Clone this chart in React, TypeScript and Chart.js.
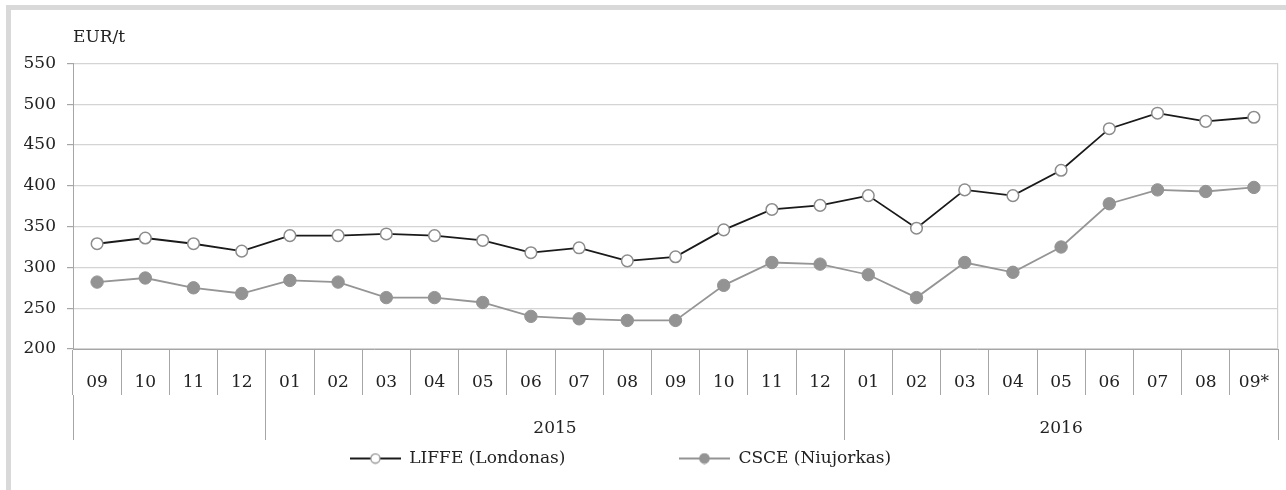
import React, { useEffect, useRef } from "react";
import { Chart, registerables } from "chart.js";

Chart.register(...registerables);

const months = ["09", "10", "11", "12", "01", "02", "03", "04", "05", "06", "07", "08", "09", "10", "11", "12", "01", "02", "03", "04", "05", "06", "07", "08", "09*"];
const yearLabels = ["", "2015", "2016"];
const yearStarts = [0, 4, 16];
const liffe = [329, 336, 329, 320, 339, 339, 341, 339, 333, 318, 324, 308, 313, 346, 371, 376, 388, 348, 395, 388, 419, 470, 489, 479, 484];
const csce = [282, 287, 275, 268, 284, 282, 263, 263, 257, 240, 237, 235, 235, 278, 306, 304, 291, 263, 306, 294, 325, 378, 395, 393, 398];
const seriesNames = ["LIFFE (Londonas)", "CSCE (Niujorkas)"];
const yMin = 200;
const yMax = 550;
const yStep = 50;
const unitLabel = "EUR/t";

const FONT = "DejaVu Serif";
const TEXT = "#222222";
const AXIS = "#a6a6a6";
const GRID = "#d4d4d4";

function makeMarker(lineColor: string, fill: string, stroke: string, r: number) {
  const c = document.createElement("canvas");
  c.width = 51;
  c.height = 12;
  const g = c.getContext("2d")!;
  g.strokeStyle = lineColor;
  g.lineWidth = 2;
  g.beginPath();
  g.moveTo(0, 6);
  g.lineTo(51, 6);
  g.stroke();
  g.beginPath();
  g.arc(25.5, 6, r, 0, Math.PI * 2);
  g.fillStyle = fill;
  g.fill();
  g.strokeStyle = stroke;
  g.lineWidth = 1.2;
  g.stroke();
  return c;
}

export default function App() {
  const ref = useRef<HTMLCanvasElement>(null);

  useEffect(() => {
    if (!ref.current) return;
    const n = months.length;
    const boundaries: number[] = yearStarts.map((s) => s - 0.5).concat([n - 0.5]);
    const centers: number[] = yearStarts.map((s, i) => {
      const end = i + 1 < yearStarts.length ? yearStarts[i + 1] - 1 : n - 1;
      return (s + end) / 2;
    });
    const yearTicks = boundaries.concat(centers).sort((a, b) => a - b);

    const m1 = makeMarker("#1a1a1a", "#ffffff", "#8c8c8c", 4.6);
    const m2 = makeMarker("#939393", "#949494", "#949494", 4.8);
    const spacer = document.createElement("canvas");
    spacer.width = 1;
    spacer.height = 1;

    const chart = new Chart(ref.current, {
      type: "line",
      data: {
        labels: months,
        datasets: [
          {
            label: seriesNames[0],
            data: liffe,
            borderColor: "#1a1a1a",
            borderWidth: 1.8,
            pointRadius: 5.8,
            pointBackgroundColor: "#ffffff",
            pointBorderColor: "#8c8c8c",
            pointBorderWidth: 1.5,
            tension: 0,
            xAxisID: "x",
            yAxisID: "y",
          },
          {
            label: seriesNames[1],
            data: csce,
            borderColor: "#959595",
            borderWidth: 1.8,
            pointRadius: 6.2,
            pointBackgroundColor: "#939393",
            pointBorderColor: "#939393",
            pointBorderWidth: 1,
            tension: 0,
            xAxisID: "x",
            yAxisID: "y",
          },
        ],
      },
      options: {
        responsive: false,
        animation: false,
        devicePixelRatio: 1,
        events: [],
        font: { family: FONT },
        layout: { padding: { left: -37, right: 8, top: 0, bottom: 23 } },
        scales: {
          y: {
            position: "left",
            min: yMin,
            max: yMax,
            ticks: { stepSize: yStep, color: TEXT, font: { family: FONT, size: 17 }, padding: 11 },
            grid: { color: GRID, tickColor: AXIS, tickLength: 6, lineWidth: 1.2 },
            border: { display: true, color: AXIS, width: 1 },
            afterFit: (s: any) => {
              s.width = 110;
            },
          },
          yr: {
            position: "right",
            min: yMin,
            max: yMax,
            ticks: { display: false },
            grid: { drawOnChartArea: false, drawTicks: false },
            border: { display: true, color: "#d0d0d0", width: 1.2 },
            afterFit: (s: any) => {
              s.width = 0;
            },
          },
          x: {
            type: "category",
            position: "bottom",
            offset: true,
            ticks: { color: TEXT, font: { family: FONT, size: 17 }, padding: -23, autoSkip: false, maxRotation: 0 },
            grid: { offset: true, drawOnChartArea: false, drawTicks: true, tickLength: 46, color: AXIS, tickColor: AXIS },
            border: { display: true, color: AXIS, width: 1 },
            afterFit: (s: any) => {
              s.height = 46;
            },
          },
          x2: {
            type: "linear",
            position: "bottom",
            min: -0.5,
            max: n - 0.5,
            bounds: "data",
            afterBuildTicks: (s: any) => {
              s.ticks = yearTicks.map((v) => ({ value: v }));
            },
            ticks: {
              color: TEXT,
              font: { family: FONT, size: 17 },
              padding: -22,
              autoSkip: false,
              maxRotation: 0,
              callback: (v: any) => {
                const i = centers.indexOf(Number(v));
                return i >= 0 ? yearLabels[i] : "";
              },
            },
            grid: {
              drawOnChartArea: false,
              drawTicks: true,
              tickLength: 45,
              color: (c: any) => (c.tick && boundaries.indexOf(c.tick.value) >= 0 ? AXIS : "rgba(0,0,0,0)"),
              tickColor: (c: any) => (c.tick && boundaries.indexOf(c.tick.value) >= 0 ? AXIS : "rgba(0,0,0,0)"),
            },
            border: { display: false },
            afterFit: (s: any) => {
              s.height = 45;
            },
          },
        },
        plugins: {
          tooltip: { enabled: false },
          title: {
            display: true,
            text: unitLabel,
            align: "start",
            fullSize: false,
            color: TEXT,
            font: { family: FONT, size: 17, weight: "normal" },
            padding: { top: 27, bottom: 16 },
          },
          legend: {
            display: true,
            position: "bottom",
            maxHeight: 27,
            onClick: () => {},
            labels: {
              usePointStyle: true,
              pointStyleWidth: 51,
              padding: 10,
              color: TEXT,
              font: { family: FONT, size: 17 },
              generateLabels: (ch: any) => {
                const ds = ch.data.datasets;
                const base = { fillStyle: "rgba(0,0,0,0)", strokeStyle: "rgba(0,0,0,0)", lineWidth: 0, hidden: false, fontColor: TEXT };
                return [
                  { ...base, text: ds[0].label, pointStyle: m1, datasetIndex: 0 },
                  { ...base, text: "\u2003\u2003", pointStyle: spacer },
                  { ...base, text: ds[1].label, pointStyle: m2, datasetIndex: 1 },
                ];
              },
            },
          },
        },
      } as any,
    });
    return () => chart.destroy();
  }, []);

  return (
    <div style={{ position: "fixed", left: 0, top: 0, width: 1286, height: 490, overflow: "hidden", background: "#ffffff" }}>
      <div
        style={{
          position: "absolute",
          left: 6,
          top: 5,
          width: 1400,
          height: 600,
          borderLeft: "5px solid #d9d9d9",
          borderTop: "5px solid #d9d9d9",
        }}
      />
      <canvas ref={ref} width={1286} height={490} style={{ position: "absolute", left: 0, top: 0, width: 1286, height: 490 }} />
    </div>
  );
}
